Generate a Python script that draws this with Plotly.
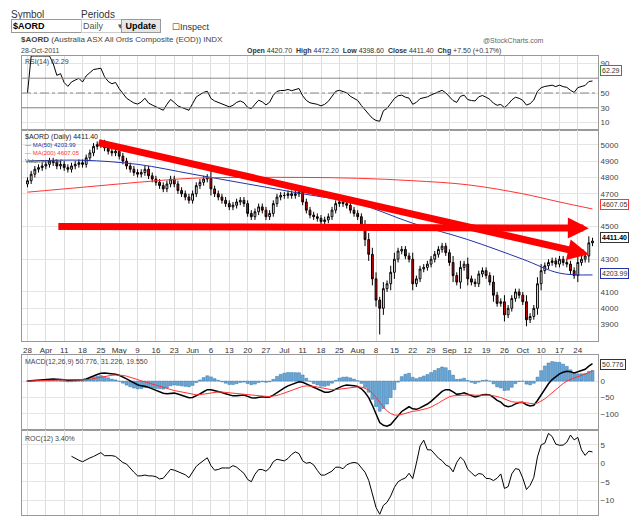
import numpy as np, pandas as pd
import plotly.graph_objects as go
from plotly.subplots import make_subplots

closes = [4780,4820,4850,4860,4870, 4880,4900,4890,4870,4880, 4860,4850,4870,4880,4890,
          4880,4920,4950,4990,5000, 5010,4980,4960,4950,4960, 4930,4900,4870,4850,4830,
          4820,4830,4850,4810,4790, 4770,4750,4730,4760,4790, 4760,4720,4700,4680,4660,
          4700,4750,4770,4790,4800, 4730,4700,4680,4660,4640, 4620,4630,4650,4660,4640,
          4580,4560,4590,4620,4600, 4560,4580,4640,4680,4690, 4690,4700,4690,4700,4710,
          4650,4600,4570,4560,4550, 4530,4540,4560,4600,4640, 4650,4640,4630,4600,4580,
          4560,4500,4420,4330,4180, 4050,4000,4120,4150,4220, 4300,4350,4360,4320,4300,
          4150,4180,4240,4250,4270, 4300,4330,4360,4380,4340, 4280,4200,4160,4250,4270,
          4180,4160,4150,4210,4230, 4200,4160,4080,4030,4040, 3960,4000,4060,4100,4080,
          4040,3930,3950,4000,4150, 4230,4260,4280,4290,4270, 4300,4280,4270,4230,4200,
          4280,4300,4320,4400,4411.4]
opens = [4760] + closes[:-1]
wick = [40 if abs(c - o) > 60 else 20 for c, o in zip(closes, opens)]
highs = [max(o, c) + w for o, c, w in zip(opens, closes, wick)]
lows = [min(o, c) - w for o, c, w in zip(opens, closes, wick)]
lows[96] = 3840

dates = pd.bdate_range("2011-03-28", "2011-10-28")
x = list(range(len(dates)))

ma_idx = [0, 15, 30, 45, 60, 75, 90, 105, 120, 135, 145, 154]
ma50 = [4900, 4905, 4880, 4820, 4760, 4700, 4640, 4520, 4420, 4300, 4215, 4203.99]
ma200 = [4710, 4740, 4770, 4795, 4800, 4800, 4795, 4780, 4755, 4700, 4650, 4607.05]

tick_labels = ["28","Apr","11","18","25","May","9","16","23","Jun","6","13","20","27","Jul","11","18","25",
               "Aug","8","15","22","29","Sep","12","19","26","Oct","10","17","24"]

s = pd.Series(closes, dtype=float)
d = s.diff().fillna(0)
up = d.clip(lower=0).ewm(alpha=1/14).mean()
dn = (-d.clip(upper=0)).ewm(alpha=1/14).mean()
rsi = 100 - 100 / (1 + up / dn.replace(0, 1e-9))
rsi.iloc[0] = 50
macd = s.ewm(span=12).mean() - s.ewm(span=26).mean()
sig = macd.ewm(span=9).mean()
hist = macd - sig
roc = (s / s.shift(12) - 1) * 100

fig = make_subplots(rows=4, cols=1, shared_xaxes=True, vertical_spacing=0)
fig.add_trace(go.Scatter(x=x, y=rsi, mode="lines", line=dict(color="black", width=1)), 1, 1)
fig.add_trace(go.Candlestick(x=x, open=opens, high=highs, low=lows, close=closes,
    increasing=dict(line=dict(color="black", width=1), fillcolor="white"),
    decreasing=dict(line=dict(color="black", width=1), fillcolor="#dd0000"),
    whiskerwidth=0), 2, 1)
fig.add_trace(go.Scatter(x=ma_idx, y=ma50, mode="lines", line=dict(color="#2233aa", width=1, shape="spline")), 2, 1)
fig.add_trace(go.Scatter(x=ma_idx, y=ma200, mode="lines", line=dict(color="#ff3333", width=1, shape="spline")), 2, 1)
fig.add_trace(go.Bar(x=x, y=hist * 1.5, marker=dict(color="#6aa6d6", line=dict(color="#3377aa", width=0.5))), 3, 1)
fig.add_trace(go.Scatter(x=x, y=macd, mode="lines", line=dict(color="black", width=1.5)), 3, 1)
fig.add_trace(go.Scatter(x=x, y=sig, mode="lines", line=dict(color="#ff3333", width=1)), 3, 1)
fig.add_trace(go.Scatter(x=x, y=roc, mode="lines", line=dict(color="black", width=1)), 4, 1)

H = 517
L, R = 14, 50
PW = 640 - L - R
def dom(top, bot): return [1 - bot / H, 1 - top / H]
doms = [dom(48, 122), dom(122, 333), dom(347, 422), dom(422, 507)]
mondays = [i for i, dt in enumerate(dates) if dt.weekday() == 0]
ax_common = dict(showgrid=True, gridcolor="#dddddd", linecolor="#999999", mirror=True, showline=True,
                 range=[-1.5, len(x) + 0.5], tickvals=mondays, zeroline=False)
for r in range(1, 5):
    fig.update_xaxes(row=r, col=1, showticklabels=(r == 2), ticktext=tick_labels,
                     tickfont=dict(size=8, color="#333"), ticks="", ticklabelstandoff=1, **ax_common)
fig.update_xaxes(rangeslider_visible=False)
ycommon = dict(side="right", showgrid=True, gridcolor="#e4e4e4", linecolor="#999999", mirror=True,
               showline=True, tickfont=dict(size=8, color="#444"), zeroline=False)
fig.update_yaxes(row=1, col=1, range=[0, 100], tickvals=[10, 30, 50, 90], **ycommon)
fig.update_yaxes(row=2, col=1, range=[3800, 5090], tickvals=[3900, 4000, 4100, 4300, 4500, 4700, 4800, 4900, 5000], **ycommon)
fig.update_yaxes(row=3, col=1, range=[-150, 80], tickvals=[-100, -50, 0], **ycommon)
fig.update_yaxes(row=4, col=1, range=[-14, 9], tickvals=[-10, -5, 0, 5], **ycommon)
for i, k in enumerate(["yaxis", "yaxis2", "yaxis3", "yaxis4"]):
    fig.layout[k].domain = doms[i]

for yv, dash in [(70, "solid"), (30, "solid"), (50, "dashdot")]:
    fig.add_hline(y=yv, line=dict(color="#888", width=1, dash=dash), row=1, col=1)

for (x0, y0, x1, y1) in [(8, 4500, 153, 4490), (19, 5015, 153, 4330)]:
    fig.add_annotation(x=x1, y=y1, ax=x0, ay=y0, xref="x2", yref="y2", axref="x2", ayref="y2",
                       showarrow=True, arrowhead=2, arrowsize=0.6, arrowwidth=7, arrowcolor="#ff0000", text="")

def txt(xp, yp, t, size=10, color="#222", anchor="left", bg=None, border=None):
    fig.add_annotation(x=(xp - L) / PW, y=1 - yp / H, xref="paper", yref="paper", text=t, showarrow=False,
                       xanchor=anchor, yanchor="middle", font=dict(size=size, color=color),
                       bgcolor=bg, bordercolor=border, borderwidth=1 if border else 0, borderpad=1)
txt(2, 6, "Symbol", 10, "#333")
txt(72, 6, "Periods", 10, "#333")
txt(3, 18, "<b>$AORD</b>                ", 9, "#000", bg="white", border="#999")
txt(73, 18, "Daily      ▾", 9, "#555", bg="white", border="#ccc")
txt(113, 18, " <b>Update</b> ", 9, "#000", bg="#e6e6e6", border="#999")
txt(163, 19, "☐Inspect", 9, "#333")
txt(12, 31, "<b>$AORD</b> (Australia ASX All Ords Composite (EOD)) INDX", 8, "#444")
txt(12, 42, "28-Oct-2011", 7, "#444")
txt(474, 33, "@StockCharts.com", 7, "#666")
txt(238, 43, "<b>Open</b> 4420.70  <b>High</b> 4472.20  <b>Low</b> 4398.60  <b>Close</b> 4411.40  <b>Chg</b> +7.50 (+0.17%)", 7, "#333")
txt(16, 54, "RSI(14) 62.29", 7, "#444")
txt(16, 129, "$AORD (Daily) 4411.40", 7, "#222")
txt(16, 137, "— MA(50) 4203.99", 6, "#2233aa")
txt(16, 145, "— MA(200) 4607.05", 6, "#ff3333")
txt(16, 153, "Volume undef", 6, "#444")
txt(16, 354, "MACD(12,26,9) 50.776, 31.226, 19.550", 7, "#444")
txt(16, 431, "ROC(12) 3.40%", 7, "#444")
txt(592, 63, "62.29", 7, "#333", bg="white", border="#3a8a3a")
txt(592, 196, "4607.05", 7, "#333", bg="white", border="#ff3333")
txt(592, 229, "<b>4411.40</b>", 7, "#000", bg="white", border="#333")
txt(592, 265, "4203.99", 7, "#333", bg="white", border="#2233aa")
txt(592, 356, "50.776", 7, "#333", bg="white", border="#333")

fig.update_layout(width=640, height=517, margin=dict(l=L, r=R, t=0, b=0), showlegend=False,
                  plot_bgcolor="white", paper_bgcolor="white", bargap=0.2,
                  font=dict(family="Liberation Sans"))
fig.write_html("out.html")
